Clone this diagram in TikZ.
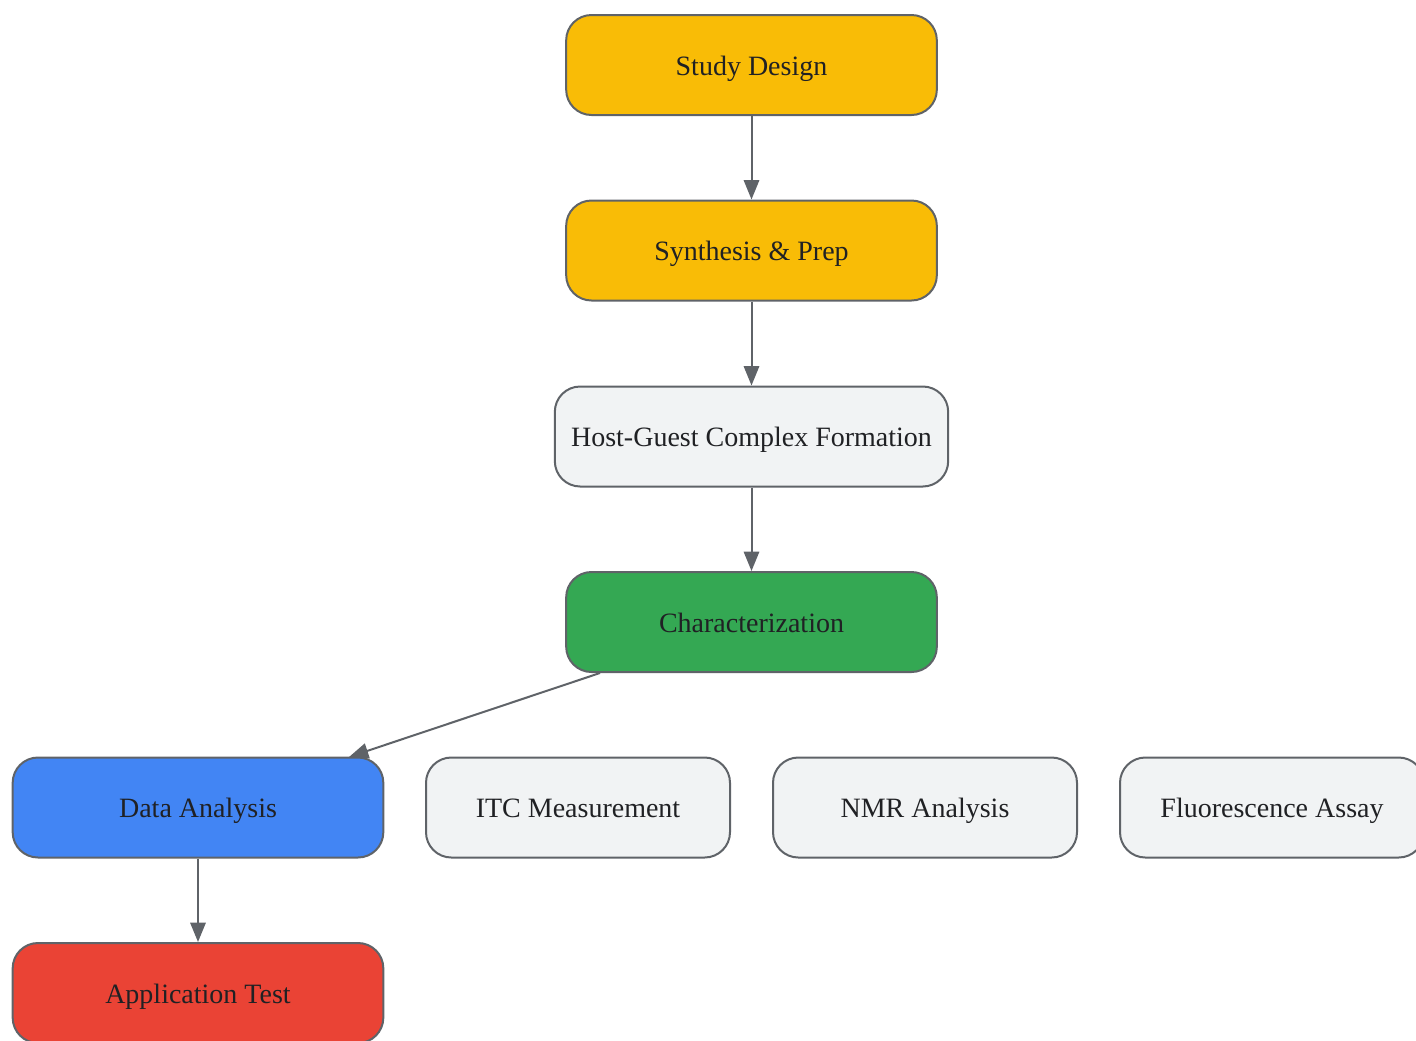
\documentclass[tikz,border=0pt]{standalone}
\usepackage{fontspec}
\setmainfont{Liberation Serif}
\usetikzlibrary{arrows.meta}
\definecolor{edge}{HTML}{5F6368}
\definecolor{txt}{HTML}{202124}
\definecolor{cyel}{HTML}{F9BC06}
\definecolor{cgrn}{HTML}{34A853}
\definecolor{cblu}{HTML}{4285F4}
\definecolor{cred}{HTML}{EA4335}
\definecolor{cgry}{HTML}{F1F3F4}
\tikzset{
  box/.style={draw=edge, line width=1.5pt, rounded corners=19pt, minimum height=75pt,
    text=txt, font=\fontsize{21}{25}\selectfont, inner sep=0pt, anchor=center,
    text height=15.5pt, text depth=0pt},
  wide/.style={box, minimum width=278pt},
  mid/.style={box, minimum width=228pt},
  conn/.style={draw=edge, line width=1.5pt, -{Triangle[length=14.5pt,width=11.5pt]}}
}
\begin{document}
\begin{tikzpicture}[x=0.75pt,y=-0.75pt]
\useasboundingbox (0,0) rectangle (1416,1040);
\clip (0,0) rectangle (1416,1040);
\node[wide, fill=cyel] (sd) at (751.5,65) {Study Design};
\node[wide, fill=cyel] (sp) at (751.5,250.5) {Synthesis \& Prep};
\node[box, fill=cgry, minimum width=295pt] (hg) at (751.5,436.5) {Host-Guest Complex Formation};
\node[wide, fill=cgrn] (ch) at (751.5,622) {Characterization};
\node[wide, fill=cblu] (da) at (198,807.5) {Data Analysis};
\node[mid, fill=cgry] (itc) at (578,807.5) {ITC Measurement};
\node[mid, fill=cgry] (nmr) at (925,807.5) {NMR Analysis};
\node[mid, fill=cgry] (fl) at (1272,807.5) {Fluorescence Assay};
\node[wide, fill=cred] (at) at (198,993) {Application Test};
\draw[conn] (sd) -- (sp);
\draw[conn] (sp) -- (hg);
\draw[conn] (hg) -- (ch);
\coordinate (chs) at (600,673);
\coordinate (dan) at (349,757);
\draw[conn] (chs) -- (dan);
\draw[conn] (da) -- (at);
\end{tikzpicture}
\end{document}
